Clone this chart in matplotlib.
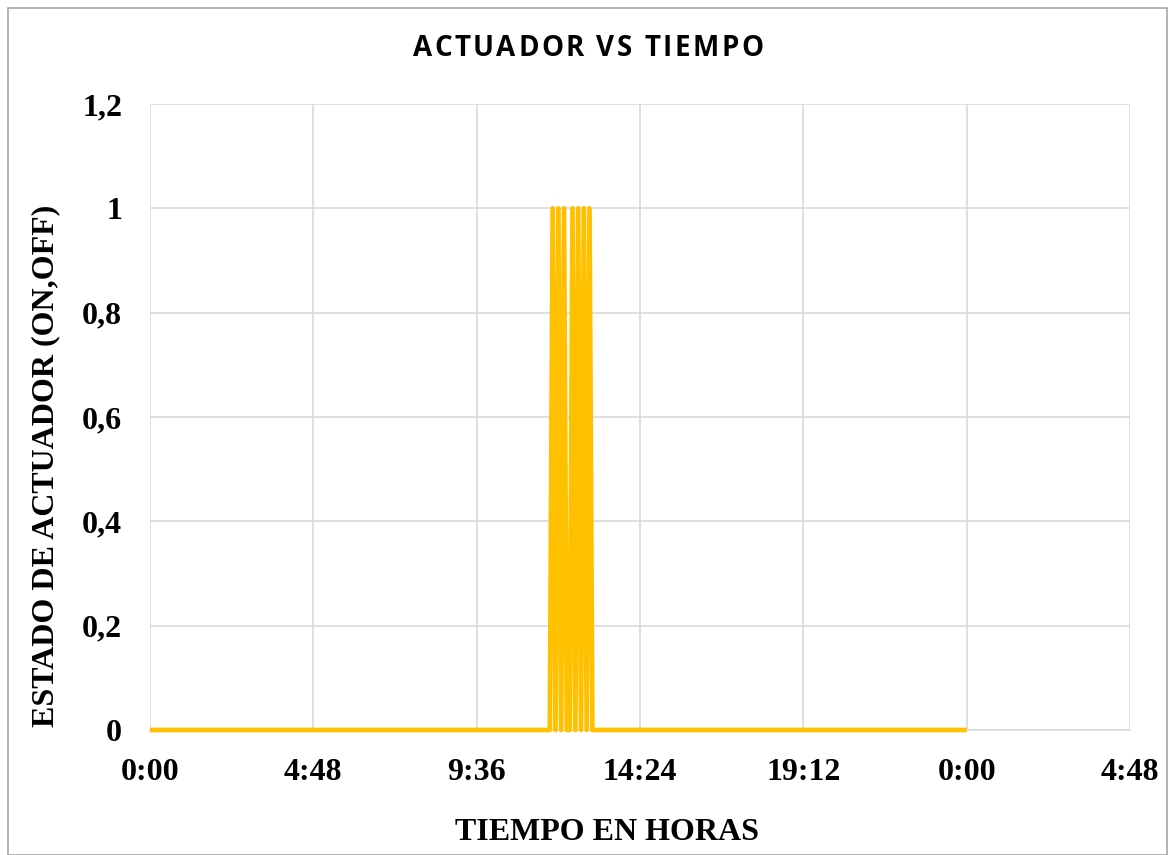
import matplotlib
matplotlib.use("Agg")
import matplotlib.pyplot as plt
from matplotlib.patches import Rectangle
from matplotlib.ticker import FixedLocator
from matplotlib.font_manager import FontProperties

# Actuator state log (time of day, 0 = OFF, 1 = ON)
times = ["0:00", "11:45", "11:50", "11:55", "12:00", "12:05", "12:10", "12:15",
         "12:20", "12:25", "12:30", "12:35", "12:40", "12:45", "12:50", "12:55",
         "13:00", "24:00"]
states = [0, 0, 1, 0, 1, 0, 1, 0, 0, 1, 0, 1, 0, 1, 0, 1, 0, 0]

x_ticks_h = [0, 4.8, 9.6, 14.4, 19.2, 24.0, 28.8]
x_tick_labels = ["0:00", "4:48", "9:36", "14:24", "19:12", "0:00", "4:48"]
y_ticks = [0, 0.2, 0.4, 0.6, 0.8, 1.0, 1.2]
y_tick_labels = ["0", "0,2", "0,4", "0,6", "0,8", "1", "1,2"]

TITLE = "ACTUADOR VS TIEMPO"


def to_hours(s):
    h, m = s.split(":")
    return int(h) + int(m) / 60.0


hours = [to_hours(t) for t in times]

W, H, DPI = 1170, 855, 100
fig = plt.figure(figsize=(W / DPI, H / DPI), dpi=DPI)
ax = fig.add_axes([150 / W, 1 - 730 / H, 980 / W, 626 / H])

ax.plot(hours, states, color="#FFC000", linewidth=3.4, solid_joinstyle="round",
        solid_capstyle="butt", zorder=3, clip_on=False)

ax.set_xlim(0, 28.8)
ax.set_ylim(0, 1.2)
ax.xaxis.set_major_locator(FixedLocator(x_ticks_h))
ax.set_xticklabels(x_tick_labels)
ax.yaxis.set_major_locator(FixedLocator(y_ticks))
ax.set_yticklabels(y_tick_labels)

serif = {"family": "Liberation Serif", "weight": "bold", "size": 23}
for lab in ax.get_xticklabels() + ax.get_yticklabels():
    lab.set_fontproperties(FontProperties(**serif))
ax.tick_params(axis="both", length=0)
ax.tick_params(axis="x", pad=20)
ax.tick_params(axis="y", pad=20)

ax.grid(True, color="#D9D9D9", linewidth=1.2, zorder=0)
for s in ["top", "right", "left"]:
    ax.spines[s].set_visible(False)
ax.spines["bottom"].set_color("#D9D9D9")
ax.spines["bottom"].set_linewidth(1.2)

ax.set_xlabel("TIEMPO EN HORAS", fontdict=serif)
ax.set_ylabel("ESTADO DE ACTUADOR (ON,OFF)", fontdict=serif)
ax.xaxis.set_label_coords((607 - 150) / 980, -(832 - 730) / 626)
ax.xaxis.label.set_va("center")
ax.yaxis.set_label_coords(-(150 - 46) / 980, (730 - 466) / 626)
ax.yaxis.label.set_va("center")

# Letter-spaced title, placed character by character
title_fp = FontProperties(family="Open Sans", weight="bold", size=20)
renderer = fig.canvas.get_renderer()
tracking = 2.5


def text_width(s):
    t = fig.text(0, 0, s, fontproperties=title_fp)
    w = t.get_window_extent(renderer).width
    t.remove()
    return w


space_w = text_width("a a") - text_width("aa")
widths = [space_w if ch == " " else text_width(ch) for ch in TITLE]
total = sum(widths) + tracking * (len(TITLE) - 1)
x = 588 - total / 2
for ch, w in zip(TITLE, widths):
    fig.text(x / W, 1 - 48 / H, ch, fontproperties=title_fp, ha="left", va="center")
    x += w + tracking

fig.patches.append(Rectangle((8 / W, 0), 1159 / W, 1 - 8 / H, transform=fig.transFigure,
                             fill=False, edgecolor="#A6A6A6", linewidth=1.2))

fig.savefig("out.png", dpi=DPI)
